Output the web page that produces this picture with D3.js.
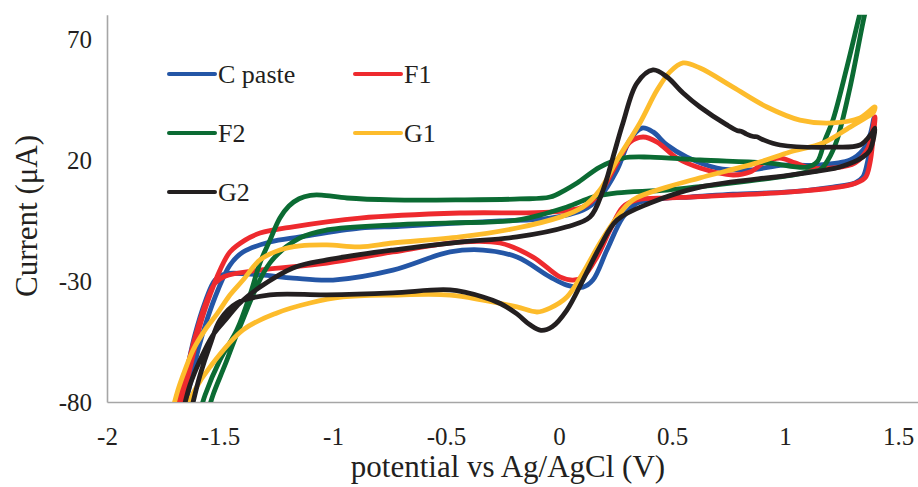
<!DOCTYPE html>
<html>
<head>
<meta charset="utf-8">
<script src="https://cdn.jsdelivr.net/npm/d3@7"></script>
<style>
  html, body { margin: 0; padding: 0; background: #fff; }
  svg { display: block; }
  text { font-family: "Liberation Serif", "Times New Roman", serif; fill: #231f20; }
</style>
</head>
<body>
<svg id="chart" width="918" height="487"></svg>
<script>
// Cyclic voltammograms: potential (V vs Ag/AgCl), current (µA).
// Each loop is listed as the anodic sweep followed by the cathodic return sweep.
const cPaste = [
  [-1.659,-83.3],[-1.633,-73.0],[-1.597,-58.5],[-1.558,-46.1],[-1.509,-33.7],[-1.456,-23.4],
  [-1.398,-18.0],[-1.279,-13.9],[-1.146,-11.8],[-0.881,-8.1],[-0.704,-7.4],[-0.438,-6.0],
  [-0.261,-5.2],[-0.040,-4.0],[0.106,-0.7],[0.181,4.7],[0.257,15.9],[0.314,28.3],
  [0.367,33.2],[0.416,31.6],[0.478,26.2],[0.566,21.2],[0.699,16.7],[0.845,15.9],
  [0.991,17.9],[1.142,17.9],[1.288,20.0],[1.345,24.1],[1.376,30.3],[1.394,37.4],
  [1.385,28.3],[1.367,20.0],[1.345,13.0],[1.310,10.5],[1.212,8.8],[1.022,6.8],
  [0.770,5.9],[0.580,4.7],[0.478,4.3],[0.345,2.2],[0.283,-3.6],[0.212,-17.2],
  [0.150,-29.6],[0.106,-32.5],[0.035,-31.7],[-0.040,-28.3],[-0.186,-20.1],[-0.336,-17.2],
  [-0.482,-18.0],[-0.735,-25.5],[-1.000,-29.6],[-1.177,-28.8],[-1.323,-27.5],[-1.478,-27.1],
  [-1.522,-29.6],[-1.566,-38.7],[-1.611,-52.3],[-1.646,-66.8],[-1.677,-80.0],[-1.690,-85.4]
];
const f1 = [
  [-1.673,-84.1],[-1.650,-73.0],[-1.619,-60.6],[-1.588,-48.2],[-1.544,-35.8],[-1.500,-25.5],
  [-1.456,-18.0],[-1.389,-13.1],[-1.323,-10.2],[-1.177,-7.6],[-0.881,-4.0],[-0.438,-1.9],
  [-0.040,-1.5],[0.106,0.6],[0.181,6.4],[0.257,18.8],[0.314,27.4],[0.372,29.5],
  [0.434,27.4],[0.522,20.8],[0.624,16.7],[0.770,13.8],[0.845,15.0],[0.912,19.2],
  [0.978,20.8],[1.044,18.8],[1.111,16.7],[1.212,16.7],[1.310,18.8],[1.367,24.9],[1.398,37.8],
  [1.389,28.3],[1.376,18.8],[1.354,12.6],[1.288,9.7],[1.022,6.8],[0.770,5.5],
  [0.580,4.7],[0.478,4.3],[0.345,3.5],[0.283,0.6],[0.226,-8.9],[0.168,-20.1],
  [0.106,-28.3],[0.062,-29.6],[0.004,-28.3],[-0.115,-20.1],[-0.261,-14.3],[-0.438,-13.9],
  [-0.735,-18.0],[-1.027,-22.6],[-1.323,-25.5],[-1.478,-28.0],[-1.522,-30.9],[-1.566,-39.9],
  [-1.611,-53.5],[-1.650,-67.6],[-1.686,-80.0],[-1.699,-85.4]
];
const f2 = [
  [-1.588,-84.1],[-1.566,-77.1],[-1.500,-62.6],[-1.425,-50.2],[-1.367,-35.7],[-1.323,-22.5],
  [-1.279,-13.1],[-1.235,-4.0],[-1.195,1.0],[-1.150,4.0],[-1.100,5.4],[-1.050,5.5],[-0.938,4.3],
  [-0.735,3.5],[-0.438,3.5],[-0.173,3.9],[-0.040,4.7],[0.027,7.6],[0.080,10.5],
  [0.181,17.1],[0.283,20.8],[0.403,21.2],[0.624,20.0],[0.920,18.8],[1.097,17.1],
  [1.142,19.2],[1.177,28.3],[1.212,36.5],[1.274,58.4],[1.332,80.7],[1.358,90.2],
  [1.381,90.2],[1.354,80.7],[1.288,50.1],[1.230,28.3],[1.190,20.0],[1.155,15.9],
  [1.097,15.0],[1.009,13.4],[0.770,10.5],[0.478,7.6],[0.257,6.4],[0.150,4.7],
  [0.035,0.6],[-0.186,-4.8],[-0.482,-6.0],[-0.735,-6.8],[-1.027,-8.9],[-1.146,-12.2],
  [-1.279,-22.5],[-1.412,-48.9],[-1.478,-64.7],[-1.531,-77.1],[-1.553,-84.1]
];
const g1 = [
  [-1.712,-84.1],[-1.686,-75.0],[-1.655,-66.8],[-1.619,-58.5],[-1.566,-50.2],[-1.513,-43.6],
  [-1.456,-35.8],[-1.398,-29.6],[-1.323,-21.3],[-1.235,-17.2],[-1.146,-15.5],[-1.027,-15.1],
  [-0.881,-15.9],[-0.735,-14.3],[-0.438,-11.8],[-0.186,-8.1],[0.004,-3.6],[0.106,0.6],
  [0.181,7.6],[0.257,20.0],[0.358,35.3],[0.434,48.9],[0.491,56.4],[0.549,60.1],
  [0.624,58.0],[0.770,50.1],[0.920,41.9],[1.066,36.5],[1.212,35.3],[1.332,37.4],[1.398,41.9],
  [1.389,39.4],[1.363,37.8],[1.288,33.6],[1.168,27.0],[1.022,23.3],[0.876,18.8],
  [0.624,12.6],[0.478,8.8],[0.327,3.5],[0.257,-3.6],[0.181,-14.3],[0.106,-26.7],
  [0.035,-36.6],[-0.040,-41.2],[-0.097,-42.8],[-0.186,-40.7],[-0.336,-37.9],[-0.482,-35.8],
  [-0.735,-35.8],[-0.956,-36.6],[-1.102,-39.1],[-1.248,-43.2],[-1.398,-50.2],[-1.544,-65.5],
  [-1.611,-75.0],[-1.655,-84.1]
];
const g2 = [
  [-1.664,-84.1],[-1.633,-73.0],[-1.588,-62.6],[-1.531,-52.3],[-1.469,-45.3],[-1.412,-39.1],
  [-1.323,-32.5],[-1.177,-24.6],[-1.027,-21.3],[-0.735,-17.2],[-0.438,-13.9],[-0.186,-11.8],
  [0.035,-7.6],[0.137,-3.6],[0.195,7.6],[0.239,21.2],[0.283,35.3],[0.345,51.8],
  [0.416,57.2],[0.478,54.3],[0.549,47.7],[0.624,41.9],[0.743,34.5],[0.790,32.1],
  [0.805,31.9],[0.830,30.7],[0.860,29.7],[0.875,29.6],[0.900,28.5],
  [0.978,26.2],[1.212,25.3],[1.332,26.2],[1.385,31.2],[1.398,33.2],
  [1.376,24.1],[1.345,21.2],[1.243,17.1],[1.022,13.8],[0.624,8.8],[0.403,2.2],
  [0.257,-4.8],[0.181,-15.9],[0.106,-29.6],[0.035,-42.0],[-0.030,-48.9],[-0.080,-50.4],
  [-0.130,-48.0],[-0.186,-43.6],[-0.260,-39.3],[-0.336,-36.6],[-0.482,-33.7],[-0.735,-34.9],
  [-1.027,-35.7],[-1.279,-35.7],
  [-1.425,-39.1],[-1.500,-46.1],[-1.544,-56.4],[-1.588,-68.8],[-1.619,-80.0],[-1.633,-85.4]
];

const seriesNames  = ["C paste", "F1", "F2", "G1", "G2"];
const seriesData   = [cPaste, f1, f2, g1, g2];
const seriesColors = ["#2456a6", "#ee2a2e", "#0b6b33", "#fdbc2c", "#231f20"];

const xTicks = [-2, -1.5, -1, -0.5, 0, 0.5, 1, 1.5];
const yTicks = [-80, -30, 20, 70];

const svg = d3.select("#chart");
const plotLeft = 107, plotRight = 918, plotTop = 14.8, plotBottom = 402;

const x = d3.scaleLinear().domain([-2, 1.5 + (plotRight - 898) / 226]).range([plotLeft, plotRight]);
const y = d3.scaleLinear().domain([-80, 80]).range([plotBottom, plotTop]);

svg.append("defs").append("clipPath").attr("id", "plot-clip")
  .append("rect").attr("x", plotLeft).attr("y", plotTop)
  .attr("width", plotRight - plotLeft).attr("height", plotBottom - plotTop);

// Axes: plain grey lines, no tick marks
const xAxis = d3.axisBottom(x).tickValues(xTicks).tickSize(0).tickPadding(0)
  .tickFormat(d => String(d));
const gx = svg.append("g").attr("transform", `translate(0,${plotBottom})`).call(xAxis);
gx.select(".domain").attr("stroke", "#a6a6a6").attr("stroke-width", 1.6);
gx.selectAll(".tick text").attr("y", 43).attr("dy", null)
  .style("font-size", "25px").style("font-family", '"Liberation Serif", serif').attr("fill", "#231f20");

const yAxis = d3.axisLeft(y).tickValues(yTicks).tickSize(0).tickPadding(0)
  .tickFormat(d => String(d));
const gy = svg.append("g").attr("transform", `translate(${plotLeft},0)`).call(yAxis);
gy.select(".domain").attr("stroke", "#a6a6a6").attr("stroke-width", 1.6);
gy.selectAll(".tick text").attr("x", -15).attr("dy", "0.34em")
  .style("font-size", "25px").style("font-family", '"Liberation Serif", serif').attr("fill", "#231f20");

// Axis titles
svg.append("text").attr("x", 508).attr("y", 477).attr("text-anchor", "middle")
  .style("font-size", "31px").text("potential vs Ag/AgCl (V)");
svg.append("text").attr("transform", "translate(37,216) rotate(-90)").attr("text-anchor", "middle")
  .style("font-size", "31px").text("Current (μA)");

// Curves
const line = d3.line().x(d => x(d[0])).y(d => y(d[1])).curve(d3.curveCatmullRom.alpha(0.5));
const plot = svg.append("g").attr("clip-path", "url(#plot-clip)");
seriesData.forEach((data, i) => {
  plot.append("path").datum(data)
    .attr("fill", "none").attr("stroke", seriesColors[i])
    .attr("stroke-width", 4.8).attr("stroke-linejoin", "round").attr("stroke-linecap", "round")
    .attr("d", line);
});

// Legend
const legendPos = [[169, 74], [355, 74], [169, 133], [355, 133], [169, 192]];
const legend = svg.append("g");
seriesNames.forEach((name, i) => {
  const [lx, ly] = legendPos[i];
  legend.append("line").attr("x1", lx).attr("x2", lx + 46).attr("y1", ly).attr("y2", ly)
    .attr("stroke", seriesColors[i]).attr("stroke-width", 4).attr("stroke-linecap", "round");
  legend.append("text").attr("x", lx + 49).attr("y", ly + 9)
    .style("font-size", "26px").text(name);
});
</script>
</body>
</html>
